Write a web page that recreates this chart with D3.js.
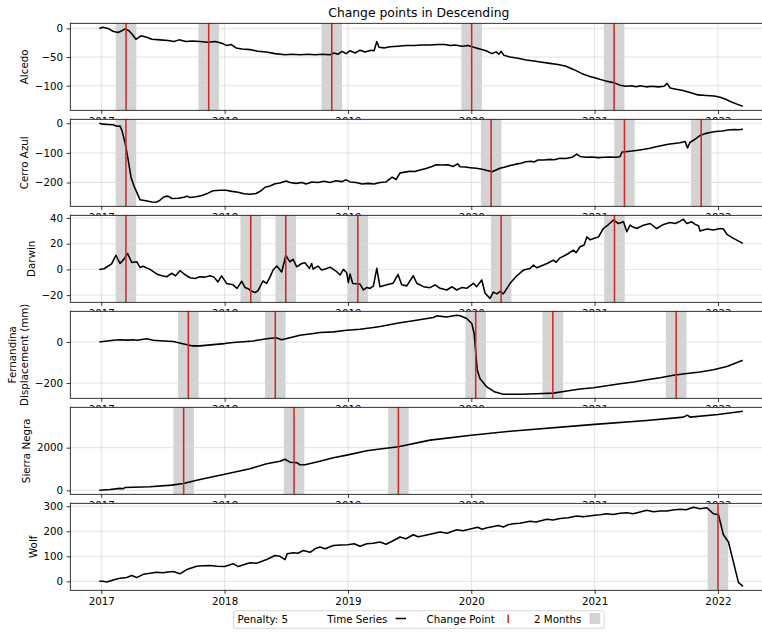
<!DOCTYPE html>
<html>
<head>
<meta charset="utf-8">
<script src="https://cdn.jsdelivr.net/npm/d3@7"></script>
<style>
  body { margin: 0; background: #fff; }
  svg text { font-family: "DejaVu Sans", sans-serif; fill: #000; }
</style>
</head>
<body>
<div id="chart"></div>
<script>
// ---- data (decimal year, displacement in mm) ----
const volcanoNames = ['Alcedo', 'Cerro Azul', 'Darwin', 'Fernandina', 'Sierra Negra', 'Wolf'];
const yLabels = [['Alcedo'], ['Cerro Azul'], ['Darwin'], ['Fernandina', 'Displacement (mm)'], ['Sierra Negra'], ['Wolf']];

const alcedo = [[2016.984,0],[2017.014,2],[2017.054,0],[2017.095,-5],[2017.135,-7],[2017.168,-4],[2017.192,-1],[2017.225,-4],[2017.257,-12],[2017.281,-19],[2017.322,-13],[2017.362,-15],[2017.411,-19],[2017.476,-20],[2017.541,-21],[2017.590,-23],[2017.630,-20],[2017.687,-23],[2017.736,-22],[2017.800,-23],[2017.865,-24],[2017.922,-23],[2017.979,-26],[2018.019,-30],[2018.052,-28],[2018.093,-34],[2018.141,-36],[2018.206,-37],[2018.271,-40],[2018.336,-41],[2018.409,-44],[2018.490,-46],[2018.547,-45],[2018.611,-46],[2018.676,-45],[2018.733,-46],[2018.790,-45],[2018.854,-46],[2018.887,-43],[2018.920,-45],[2018.952,-40],[2018.985,-44],[2019.017,-39],[2019.058,-43],[2019.098,-38],[2019.139,-41],[2019.187,-38],[2019.212,-39],[2019.234,-23],[2019.252,-33],[2019.293,-34],[2019.341,-32],[2019.406,-31],[2019.471,-30],[2019.536,-30],[2019.601,-29],[2019.665,-29],[2019.730,-28],[2019.787,-28],[2019.828,-30],[2019.868,-29],[2019.925,-31],[2019.974,-30],[2020.006,-32],[2020.055,-35],[2020.120,-39],[2020.168,-44],[2020.201,-41],[2020.225,-45],[2020.241,-40],[2020.265,-47],[2020.314,-50],[2020.379,-52],[2020.444,-55],[2020.509,-57],[2020.574,-59],[2020.638,-61],[2020.703,-63],[2020.768,-66],[2020.833,-72],[2020.898,-79],[2020.963,-84],[2021.028,-88],[2021.093,-92],[2021.158,-95],[2021.206,-99],[2021.255,-101],[2021.304,-100],[2021.336,-102],[2021.369,-100],[2021.417,-102],[2021.466,-101],[2021.515,-102],[2021.563,-101],[2021.588,-96],[2021.612,-104],[2021.660,-106],[2021.709,-108],[2021.774,-112],[2021.839,-116],[2021.904,-117],[2021.969,-118],[2022.018,-120],[2022.067,-124],[2022.115,-129],[2022.164,-133],[2022.202,-136]];

const cerroAzul = [[2016.984,0],[2017.014,-3],[2017.054,-4],[2017.095,-5],[2017.127,-10],[2017.152,-9],[2017.168,-25],[2017.192,-64],[2017.217,-120],[2017.241,-182],[2017.265,-212],[2017.290,-235],[2017.314,-258],[2017.362,-262],[2017.411,-266],[2017.444,-267],[2017.476,-260],[2017.509,-248],[2017.541,-246],[2017.573,-254],[2017.622,-253],[2017.671,-250],[2017.695,-246],[2017.719,-251],[2017.768,-248],[2017.817,-244],[2017.865,-236],[2017.906,-228],[2017.963,-226],[2018.011,-226],[2018.060,-230],[2018.109,-233],[2018.157,-238],[2018.206,-240],[2018.255,-237],[2018.296,-228],[2018.328,-216],[2018.368,-212],[2018.409,-204],[2018.449,-202],[2018.498,-195],[2018.531,-200],[2018.579,-203],[2018.628,-200],[2018.660,-205],[2018.709,-198],[2018.757,-200],[2018.806,-196],[2018.854,-200],[2018.903,-194],[2018.952,-197],[2018.985,-191],[2019.017,-198],[2019.066,-200],[2019.115,-205],[2019.163,-203],[2019.212,-205],[2019.260,-200],[2019.309,-198],[2019.358,-182],[2019.390,-190],[2019.422,-168],[2019.463,-165],[2019.503,-162],[2019.544,-163],[2019.584,-158],[2019.633,-153],[2019.682,-146],[2019.714,-140],[2019.763,-141],[2019.811,-140],[2019.852,-146],[2019.890,-137],[2019.909,-147],[2019.950,-148],[2019.992,-150],[2020.041,-152],[2020.089,-155],[2020.136,-160],[2020.168,-164],[2020.201,-158],[2020.233,-152],[2020.282,-147],[2020.314,-143],[2020.363,-138],[2020.403,-135],[2020.444,-130],[2020.484,-128],[2020.509,-131],[2020.541,-124],[2020.590,-124],[2020.638,-122],[2020.671,-123],[2020.719,-118],[2020.768,-119],[2020.817,-115],[2020.855,-104],[2020.882,-112],[2020.930,-115],[2020.979,-114],[2021.028,-116],[2021.077,-115],[2021.125,-114],[2021.174,-115],[2021.206,-113],[2021.222,-97],[2021.255,-96],[2021.304,-94],[2021.352,-91],[2021.401,-88],[2021.450,-84],[2021.498,-79],[2021.547,-75],[2021.596,-71],[2021.644,-68],[2021.693,-66],[2021.734,-62],[2021.753,-83],[2021.774,-64],[2021.815,-54],[2021.855,-41],[2021.896,-35],[2021.936,-31],[2021.985,-28],[2022.034,-26],[2022.083,-23],[2022.131,-21],[2022.164,-22],[2022.202,-20]];

const darwin = [[2016.984,0],[2017.022,0.5],[2017.084,4.3],[2017.119,11],[2017.152,4.6],[2017.184,8],[2017.214,12.4],[2017.247,5.4],[2017.287,6],[2017.314,1.5],[2017.338,2.5],[2017.395,0],[2017.449,-3.5],[2017.492,-5],[2017.530,-5.7],[2017.571,-3],[2017.603,-5],[2017.638,-1],[2017.679,-4],[2017.719,-6.5],[2017.760,-7],[2017.800,-5.7],[2017.841,-6],[2017.881,-4.9],[2017.914,-6],[2017.946,-9.7],[2017.976,-5],[2018.017,-11],[2018.068,-12],[2018.101,-14.8],[2018.139,-9.2],[2018.165,-14],[2018.190,-15],[2018.220,-17],[2018.247,-18],[2018.271,-16.5],[2018.311,-9],[2018.341,-10.8],[2018.368,-6],[2018.393,-0.5],[2018.423,2.6],[2018.463,-2],[2018.496,10.8],[2018.530,5.8],[2018.555,7.9],[2018.585,2],[2018.625,4.6],[2018.652,5.2],[2018.687,0.8],[2018.706,4.6],[2018.717,0.3],[2018.757,2.6],[2018.787,-0.5],[2018.822,0.5],[2018.855,1.8],[2018.909,-1.8],[2018.936,-4.4],[2018.963,0],[2018.990,-2.6],[2019.003,-10.3],[2019.017,-3.6],[2019.039,-11],[2019.098,-11.4],[2019.125,-16],[2019.155,-14],[2019.179,-14.8],[2019.206,-13],[2019.234,0.8],[2019.260,-13.5],[2019.315,-12],[2019.366,-10.8],[2019.406,-3.9],[2019.436,-12],[2019.477,-12.8],[2019.530,-4.9],[2019.558,-10.8],[2019.612,-13.4],[2019.666,-14.2],[2019.706,-12],[2019.747,-14.7],[2019.801,-16],[2019.844,-13.5],[2019.882,-16],[2019.925,-14],[2019.963,-14.7],[2020.017,-10.8],[2020.044,-13.4],[2020.085,-8.2],[2020.112,-18.5],[2020.152,-22.5],[2020.179,-17.7],[2020.207,-19],[2020.234,-17],[2020.260,-19],[2020.315,-10.8],[2020.369,-5],[2020.423,-0.5],[2020.477,0.8],[2020.504,3.4],[2020.531,1.3],[2020.585,3.4],[2020.623,5],[2020.666,7.2],[2020.688,5.5],[2020.720,9],[2020.774,11.6],[2020.828,15],[2020.850,13],[2020.882,17.6],[2020.915,19],[2020.937,25.3],[2020.964,23],[2020.991,24],[2021.031,25.3],[2021.071,31.8],[2021.112,34.9],[2021.153,38.3],[2021.193,35.7],[2021.234,37],[2021.261,29.3],[2021.288,34.4],[2021.312,33],[2021.342,31.8],[2021.396,34.4],[2021.450,35.7],[2021.504,31.8],[2021.531,33.5],[2021.558,34.9],[2021.612,36.5],[2021.653,35.7],[2021.693,37.5],[2021.720,39],[2021.747,35.7],[2021.788,37],[2021.815,35],[2021.842,33.9],[2021.855,29.8],[2021.910,31.4],[2021.963,30.6],[2022.018,31.8],[2022.045,31.4],[2022.072,27.2],[2022.126,24.1],[2022.202,20.2]];

const fernandina = [[2016.984,0],[2017.030,3],[2017.097,8],[2017.152,11],[2017.217,9],[2017.260,11],[2017.290,8],[2017.330,12],[2017.368,16],[2017.422,8],[2017.476,6],[2017.584,2],[2017.652,-8],[2017.733,-19],[2017.800,-19],[2017.908,-13],[2018.000,-8],[2018.071,-3],[2018.233,5],[2018.341,16],[2018.417,21],[2018.463,11],[2018.530,21],[2018.611,33],[2018.719,41],[2018.773,46],[2018.882,49],[2018.990,57],[2019.098,62],[2019.206,70],[2019.260,75],[2019.422,93],[2019.530,103],[2019.693,119],[2019.720,127],[2019.801,122],[2019.882,130],[2019.909,128],[2019.963,114],[2020.004,90],[2020.023,41],[2020.037,-57],[2020.049,-138],[2020.071,-179],[2020.126,-219],[2020.193,-244],[2020.260,-255],[2020.396,-255],[2020.531,-252],[2020.666,-249],[2020.774,-239],[2020.882,-229],[2020.990,-223],[2021.099,-213],[2021.207,-203],[2021.315,-195],[2021.423,-184],[2021.531,-174],[2021.639,-162],[2021.747,-154],[2021.855,-146],[2021.963,-135],[2022.072,-119],[2022.202,-89]];

const sierraNegra = [[2016.984,0],[2017.071,40],[2017.152,92],[2017.176,75],[2017.192,130],[2017.395,166],[2017.571,245],[2017.665,323],[2017.800,508],[2018.000,752],[2018.206,1015],[2018.341,1246],[2018.449,1366],[2018.490,1458],[2018.530,1320],[2018.585,1300],[2018.611,1200],[2018.652,1200],[2018.773,1366],[2018.882,1523],[2019.000,1662],[2019.153,1860],[2019.260,1938],[2019.409,2045],[2019.666,2353],[2020.000,2584],[2020.341,2783],[2021.000,3092],[2021.423,3277],[2021.720,3430],[2021.752,3522],[2021.774,3430],[2022.000,3553],[2022.202,3706]];

const wolf = [[2016.984,0],[2017.014,0],[2017.044,-3],[2017.084,3],[2017.119,8],[2017.152,12],[2017.206,15],[2017.247,23],[2017.287,15],[2017.341,28],[2017.395,32],[2017.449,36],[2017.500,34],[2017.541,37],[2017.584,39],[2017.638,30],[2017.693,47],[2017.774,60],[2017.825,62],[2017.881,63],[2017.938,60],[2018.000,59],[2018.071,70],[2018.111,59],[2018.179,70],[2018.206,74],[2018.260,72],[2018.341,87],[2018.409,103],[2018.449,100],[2018.490,87],[2018.508,110],[2018.557,114],[2018.595,112],[2018.638,123],[2018.693,116],[2018.733,130],[2018.773,137],[2018.814,130],[2018.882,143],[2018.936,145],[2019.000,146],[2019.050,150],[2019.098,140],[2019.153,150],[2019.204,152],[2019.260,157],[2019.309,148],[2019.358,160],[2019.422,177],[2019.471,170],[2019.530,186],[2019.568,178],[2019.611,182],[2019.666,188],[2019.747,197],[2019.804,192],[2019.882,206],[2019.933,202],[2020.000,210],[2020.052,216],[2020.088,208],[2020.128,214],[2020.180,219],[2020.218,223],[2020.260,217],[2020.298,226],[2020.341,230],[2020.395,232],[2020.476,240],[2020.525,237],[2020.612,248],[2020.663,245],[2020.720,251],[2020.785,254],[2020.855,261],[2020.907,258],[2021.000,264],[2021.044,266],[2021.099,270],[2021.150,267],[2021.206,272],[2021.261,274],[2021.312,270],[2021.369,277],[2021.423,284],[2021.477,278],[2021.531,281],[2021.585,281],[2021.636,285],[2021.693,288],[2021.742,286],[2021.801,296],[2021.855,290],[2021.910,294],[2021.963,270],[2022.004,266],[2022.044,186],[2022.085,157],[2022.126,76],[2022.166,-4],[2022.202,-20]];

// change points (decimal year); shaded window is one month either side
const alcedoCP = [2017.201, 2017.871, 2018.869, 2020.003, 2021.158];
const cerroAzulCP = [2017.200, 2020.161, 2021.242, 2021.864];
const darwinCP = [2017.200, 2018.212, 2018.496, 2019.080, 2020.242, 2021.161];
const fernandinaCP = [2017.706, 2018.411, 2020.036, 2020.661, 2021.661];
const sierraNegraCP = [2017.668, 2018.563, 2019.409];
const wolfCP = [2022.000];

const yTickValues = [[0, -50, -100], [0, -100, -200], [40, 20, 0, -20], [0, -200], [0, 2000], [0, 100, 200, 300]];
const xTickValues = [2017, 2018, 2019, 2020, 2021, 2022];
const legendLabels = ['Penalty: 5', 'Time Series', 'Change Point', '2 Months'];
const windowHalf = 1 / 12;

const series = [alcedo, cerroAzul, darwin, fernandina, sierraNegra, wolf];
const cps = [alcedoCP, cerroAzulCP, darwinCP, fernandinaCP, sierraNegraCP, wolfCP];

// ---- layout ----
const width = 762, height = 632;
const fs = 10.3;                       // 10pt at the figure's dpi
const axLeft = 70.3, axRight = 767.3;
const panelTop = 23.3, panelStep = 96, panelH = 87;
const redColor = '#d62728', bandColor = '#d3d3d3', gridColor = '#dadada';

const svg = d3.select('#chart').append('svg')
  .attr('width', width)
  .attr('height', height);

svg.append('rect').attr('width', width).attr('height', height).attr('fill', '#fff');

const x = d3.scaleLinear().domain([2016.749, 2022.40]).range([axLeft, axRight]);

series.forEach((data, i) => {
  const top = panelTop + i * panelStep;
  const ext = d3.extent(data, d => d[1]);
  const pad = (ext[1] - ext[0]) * 0.05;
  const y = d3.scaleLinear().domain([ext[0] - pad, ext[1] + pad]).range([top + panelH, top]);

  const g = svg.append('g').attr('class', 'panel');

  // axes background covers the tick labels of the panel above
  g.append('rect')
    .attr('x', axLeft).attr('y', top)
    .attr('width', axRight - axLeft).attr('height', panelH)
    .attr('fill', '#fff');

  const clipId = 'clip' + i;
  g.append('clipPath').attr('id', clipId)
    .append('rect')
    .attr('x', axLeft).attr('y', top)
    .attr('width', axRight - axLeft).attr('height', panelH);

  const inner = g.append('g').attr('clip-path', `url(#${clipId})`);

  // 2 month windows
  inner.selectAll('.band')
    .data(cps[i])
    .join('rect')
    .attr('class', 'band')
    .attr('x', d => x(d - windowHalf))
    .attr('width', d => x(d + windowHalf) - x(d - windowHalf))
    .attr('y', top).attr('height', panelH)
    .attr('fill', bandColor);

  // grid
  inner.selectAll('.vgrid')
    .data(xTickValues)
    .join('line')
    .attr('x1', d => x(d)).attr('x2', d => x(d))
    .attr('y1', top).attr('y2', top + panelH)
    .attr('stroke', gridColor).attr('stroke-width', 0.8);
  inner.selectAll('.hgrid')
    .data(yTickValues[i])
    .join('line')
    .attr('x1', axLeft).attr('x2', axRight)
    .attr('y1', d => y(d)).attr('y2', d => y(d))
    .attr('stroke', gridColor).attr('stroke-width', 0.8);

  // time series
  inner.append('path')
    .datum(data)
    .attr('fill', 'none')
    .attr('stroke', '#000')
    .attr('stroke-width', 1.55)
    .attr('stroke-linejoin', 'round')
    .attr('d', d3.line().x(d => x(d[0])).y(d => y(d[1])));

  // change points
  inner.selectAll('.cp')
    .data(cps[i])
    .join('line')
    .attr('x1', d => x(d)).attr('x2', d => x(d))
    .attr('y1', top).attr('y2', top + panelH)
    .attr('stroke', redColor).attr('stroke-width', 1.55);

  // spines
  g.append('rect')
    .attr('x', axLeft).attr('y', top)
    .attr('width', axRight - axLeft).attr('height', panelH)
    .attr('fill', 'none').attr('stroke', '#000').attr('stroke-width', 0.8);

  const yAxis = g.append('g')
    .attr('transform', `translate(${axLeft},0)`)
    .call(d3.axisLeft(y).tickValues(yTickValues[i]).tickFormat(d3.format('d'))
      .tickSize(3.6).tickPadding(3.6).tickSizeOuter(0))
    .call(a => a.select('.domain').remove());

  g.append('g')
    .attr('transform', `translate(0,${top + panelH})`)
    .call(d3.axisBottom(x).tickValues(xTickValues).tickFormat(d3.format('d'))
      .tickSize(3.6).tickPadding(3.6).tickSizeOuter(0))
    .call(a => a.select('.domain').remove());

  g.selectAll('.tick line').attr('stroke', '#000').attr('stroke-width', 0.8);
  g.selectAll('.tick text').attr('font-size', fs).attr('font-family', '"DejaVu Sans", sans-serif');

  // y label, placed left of the tick labels
  const bb = yAxis.node().getBBox();
  const baseX = axLeft + bb.x - 4.1 - 0.24 * fs;
  const lines = yLabels[i];
  lines.forEach((txt, k) => {
    const lx = baseX - (lines.length - 1 - k) * 1.2 * fs;
    g.append('text')
      .attr('transform', `translate(${lx},${top + panelH / 2}) rotate(-90)`)
      .attr('text-anchor', 'middle')
      .attr('font-size', fs)
      .text(txt);
  });
});

// title
svg.append('text')
  .attr('x', (axLeft + axRight) / 2)
  .attr('y', 17.2)
  .attr('text-anchor', 'middle')
  .attr('font-size', 1.2 * fs)
  .text('Change points in Descending');

// legend (labels first, handles after)
const legend = svg.append('g');
const legendBox = legend.append('rect');
const handleLen = 1.0 * fs, textPad = 0.8 * fs, colSpace = 2.0 * fs, borderPad = 0.4 * fs;
const legendMidY = 619.5;
let cx = 0;
const items = [];
legendLabels.forEach((lab, k) => {
  const t = legend.append('text')
    .attr('font-size', fs)
    .attr('dy', '0.35em')
    .attr('y', legendMidY)
    .text(lab);
  const w = t.node().getComputedTextLength();
  items.push({ t, x0: cx, w, k });
  cx += w + textPad + handleLen + (k < legendLabels.length - 1 ? colSpace : 0);
});
const totalW = cx + borderPad * 2;
const lx0 = (axLeft + axRight) / 2 - totalW / 2;
items.forEach(it => {
  const tx = lx0 + borderPad + it.x0;
  it.t.attr('x', tx);
  const hc = tx + it.w + textPad + handleLen / 2;
  if (it.k === 1) {
    legend.append('line')
      .attr('x1', hc - 5.15).attr('x2', hc + 5.15)
      .attr('y1', legendMidY - 1).attr('y2', legendMidY - 1)
      .attr('stroke', '#000').attr('stroke-width', 1.55);
  } else if (it.k === 2) {
    legend.append('line')
      .attr('x1', hc).attr('x2', hc)
      .attr('y1', legendMidY - 5).attr('y2', legendMidY + 3.5)
      .attr('stroke', redColor).attr('stroke-width', 1.55);
  } else if (it.k === 3) {
    legend.append('rect')
      .attr('x', hc - 5.35).attr('y', legendMidY - 6.5)
      .attr('width', 10.7).attr('height', 11)
      .attr('fill', bandColor);
  }
});
legendBox
  .attr('x', lx0).attr('y', 610.7)
  .attr('width', totalW).attr('height', 17.6)
  .attr('rx', 2)
  .attr('fill', '#fff').attr('fill-opacity', 0.8)
  .attr('stroke', '#cccccc').attr('stroke-width', 0.8);
</script>
</body>
</html>
